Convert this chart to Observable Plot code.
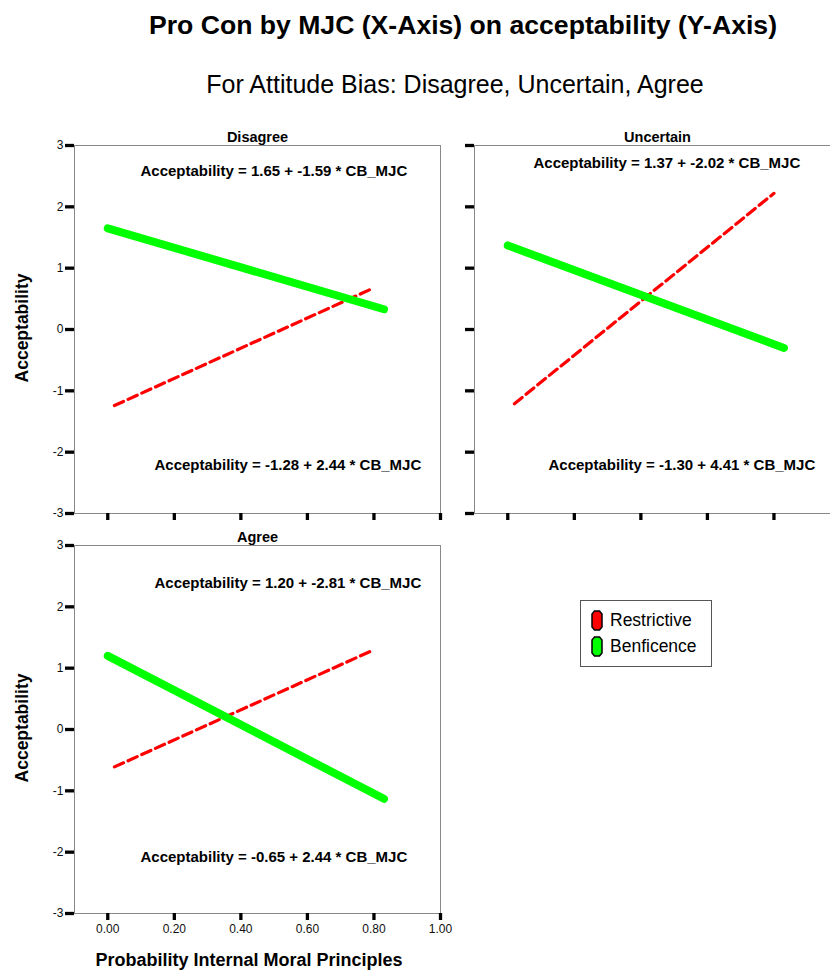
<!DOCTYPE html>
<html>
<head>
<meta charset="utf-8">
<script src="https://cdn.jsdelivr.net/npm/d3@7"></script>
<script src="https://cdn.jsdelivr.net/npm/@observablehq/plot@0.6"></script>
<style>
  html, body { margin: 0; padding: 0; background: #fff; width: 830px; height: 973px; overflow: hidden;
    font-family: Arial, "Liberation Sans", sans-serif; color: #000; }
  .abs { position: absolute; white-space: nowrap; }
  #title { left: 463px; top: 25px; transform: translate(-50%, -50%); font-size: 26.6px; font-weight: bold; }
  #subtitle { left: 455px; top: 84px; transform: translate(-50%, -50%); font-size: 25px; }
  .ytitle { left: 22px; transform: translate(-50%, -50%) rotate(-90deg); font-size: 17.5px; font-weight: bold; }
  #xtitle { left: 249px; top: 960px; transform: translate(-50%, -50%); font-size: 18px; font-weight: bold; }
  #legend { left: 580px; top: 600px; width: 132px; height: 67px; box-sizing: border-box; border: 1px solid #555; background: #fff; }
  .lg { position: absolute; left: 10px; display: flex; align-items: center; font-size: 17.5px; }
  .lg svg { margin-right: 7px; }
</style>
</head>
<body>
<div id="title" class="abs">Pro Con by MJC (X-Axis) on acceptability (Y-Axis)</div>
<div id="subtitle" class="abs">For Attitude Bias: Disagree, Uncertain, Agree</div>
<div class="abs ytitle" style="top:328px">Acceptability</div>
<div class="abs ytitle" style="top:728px">Acceptability</div>
<div id="xtitle" class="abs">Probability Internal Moral Principles</div>
<div id="p0" class="abs" style="left:0px; top:125px; width:445px;"></div>
<div id="p1" class="abs" style="left:445px; top:125px; width:395px;"></div>
<div id="p2" class="abs" style="left:0px; top:525px; width:445px;"></div>
<div id="legend" class="abs"></div>
<script>
// ---- data ----
const categories = ["Disagree", "Uncertain", "Agree"];
const series = ["Restrictive", "Benficence"];
const seriesColors = ["#ff0000", "#00ff00"];
const xTicks = [0.0, 0.2, 0.4, 0.6, 0.8, 1.0];
const yTicks = [-3, -2, -1, 0, 1, 2, 3];
// Restrictive (red dashed) fit line endpoints per category
const restrictiveX = [[0.02, 0.80], [0.02, 0.80], [0.02, 0.80]];
const restrictiveY = [[-1.24, 0.68], [-1.21, 2.22], [-0.61, 1.30]];
// Benficence (green) fit line endpoints per category
const benficenceX = [[0.00, 0.83], [0.00, 0.83], [0.00, 0.83]];
const benficenceY = [[1.65, 0.33], [1.37, -0.30], [1.20, -1.13]];
// Equation labels
const benficenceEq = [
  "Acceptability = 1.65 + -1.59 * CB_MJC",
  "Acceptability = 1.37 + -2.02 * CB_MJC",
  "Acceptability = 1.20 + -2.81 * CB_MJC"
];
const restrictiveEq = [
  "Acceptability = -1.28 + 2.44 * CB_MJC",
  "Acceptability = -1.30 + 4.41 * CB_MJC",
  "Acceptability = -0.65 + 2.44 * CB_MJC"
];

// ---- layout per panel ----
const layouts = [
  {el: "p0", width: 445, height: 400, marginLeft: 74, marginRight: 5, marginBottom: 12, xLabels: false, yLabels: true,
   top: [66, 26], bot: [80, 320]},
  {el: "p1", width: 395, height: 400, marginLeft: 29, marginRight: 0, marginBottom: 12, xLabels: false, yLabels: false,
   top: [59, 18], bot: [74, 320]},
  {el: "p2", width: 445, height: 420, marginLeft: 74, marginRight: 5, marginBottom: 32, xLabels: true, yLabels: true,
   top: [80, 38], bot: [66, 312]}
];

const font = 'Arial, "Liberation Sans", sans-serif';

categories.forEach((cat, i) => {
  const L = layouts[i];
  const red = restrictiveX[i].map((x, j) => ({x, y: restrictiveY[i][j]}));
  const green = benficenceX[i].map((x, j) => ({x, y: benficenceY[i][j]}));
  const chart = Plot.plot({
    width: L.width,
    height: L.height,
    marginLeft: L.marginLeft,
    marginRight: L.marginRight,
    marginTop: 20,
    marginBottom: L.marginBottom,
    style: {fontFamily: font, fontSize: "12px", background: "transparent", maxWidth: "none", overflow: "visible", color: "#000"},
    x: {domain: [-0.1, 1.0]},
    y: {domain: [-3, 3]},
    marks: [
      Plot.frame({stroke: "#888", strokeWidth: 1}),
      Plot.axisY(yTicks, {tickSize: 9, tickPadding: 2, strokeWidth: 3.3, stroke: "#000", fill: "#111", fontSize: 12,
        tickFormat: L.yLabels ? (d => String(d)) : (() => ""), label: null}),
      Plot.axisX(xTicks, {tickSize: 7, tickPadding: 4, strokeWidth: 3.3, stroke: "#000", fill: "#111", fontSize: 12,
        tickFormat: L.xLabels ? (d => d.toFixed(2)) : (() => ""), label: null}),
      Plot.line(red, {x: "x", y: "y", stroke: seriesColors[0], strokeWidth: 3.2, strokeDasharray: "10,5"}),
      Plot.line(green, {x: "x", y: "y", stroke: seriesColors[1], strokeWidth: 8, strokeLinecap: "round"}),
      Plot.text([cat], {frameAnchor: "top", lineAnchor: "middle", dy: -8, fontWeight: "bold", fontSize: 14.5, fill: "#000"}),
      Plot.text([benficenceEq[i]], {frameAnchor: "top-left", textAnchor: "start", lineAnchor: "middle",
        dx: L.top[0], dy: L.top[1], fontWeight: "bold", fontSize: 15, fill: "#000"}),
      Plot.text([restrictiveEq[i]], {frameAnchor: "top-left", textAnchor: "start", lineAnchor: "middle",
        dx: L.bot[0], dy: L.bot[1], fontWeight: "bold", fontSize: 15, fill: "#000"})
    ]
  });
  document.getElementById(L.el).appendChild(chart);
});

// ---- legend ----
const legend = document.getElementById("legend");
series.forEach((s, i) => {
  const row = document.createElement("div");
  row.className = "lg";
  row.style.top = (i === 0 ? 9 : 35) + "px";
  row.innerHTML = `<svg width="12" height="21" viewBox="0 0 12 21"><polygon points="3.5,1 8.5,1 11,4 11,17 8.5,20 3.5,20 1,17 1,4" fill="${seriesColors[i]}" stroke="#000" stroke-width="1.5"/></svg><span>${s}</span>`;
  legend.appendChild(row);
});
</script>
</body>
</html>
